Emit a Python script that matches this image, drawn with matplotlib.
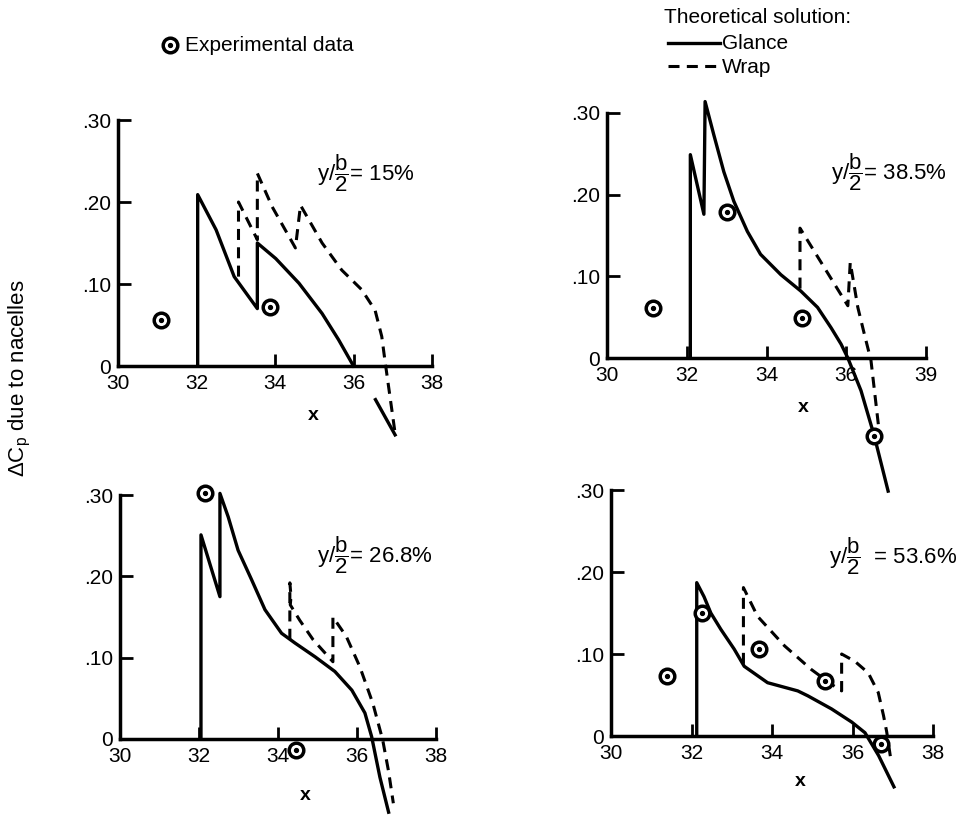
import numpy as np
import matplotlib
matplotlib.use("Agg")
import matplotlib.pyplot as plt
from matplotlib.lines import Line2D

plt.rcParams['font.family'] = ['Liberation Sans', 'DejaVu Sans']
plt.rcParams['mathtext.fontset'] = 'custom'
plt.rcParams['mathtext.rm'] = 'Liberation Sans'
plt.rcParams['mathtext.it'] = 'Liberation Sans'

nan = np.nan

# ---- data ----
# y/(b/2) = 15%
glance_15_x = [32.03, 32.03, 32.5, 32.96, 33.55, 33.55, 34.02, 34.61, 35.2, 35.62, 36.0, nan, 36.56, 37.06]
glance_15_y = [0, 0.209, 0.166, 0.109, 0.070, 0.150, 0.131, 0.101, 0.064, 0.032, 0.0, nan, -0.041, -0.084]
wrap_15_x = [33.07, 33.07, 33.55, 33.55, 33.93, 34.52, 34.65, 35.2, 35.7, 36.21, 36.55, 36.72, 36.8, 37.06]
wrap_15_y = [0.109, 0.200, 0.154, 0.235, 0.194, 0.144, 0.196, 0.150, 0.117, 0.093, 0.068, 0.036, 0.007, -0.082]
exp_15_x = [31.1, 33.87]
exp_15_y = [0.056, 0.072]

# y/(b/2) = 38.5%
glance_38_x = [32.09, 32.09, 32.43, 32.46, 32.68, 32.93, 33.18, 33.52, 33.85, 34.36, 34.86, 35.28, 35.62,
               35.87, 36.04, 36.37, 36.7, 37.05]
glance_38_y = [0, 0.249, 0.176, 0.314, 0.273, 0.228, 0.192, 0.155, 0.127, 0.102, 0.082, 0.062, 0.037,
               0.017, 0.0, -0.04, -0.095, -0.163]
wrap_38_x = [34.84, 34.84, 36.04, 36.1, 36.29, 36.45, 36.62, 36.83]
wrap_38_y = [0.085, 0.159, 0.064, 0.117, 0.062, 0.030, -0.003, -0.092]
exp_38_x = [31.16, 33.0, 34.89, 36.7]
exp_38_y = [0.061, 0.179, 0.049, -0.095]

# y/(b/2) = 26.8%
glance_26_x = [32.05, 32.05, 32.53, 32.53, 32.74, 32.99, 33.33, 33.67, 34.09, 34.43, 34.94, 35.44, 35.87,
               36.2, 36.37, 36.58, 36.8]
glance_26_y = [0, 0.251, 0.175, 0.302, 0.273, 0.232, 0.196, 0.159, 0.130, 0.118, 0.101, 0.083, 0.060,
               0.032, 0.003, -0.047, -0.09]
wrap_26_x = [34.3, 34.3, 34.33, 34.31, 34.55, 34.89, 35.39, 35.39, 35.73, 36.07, 36.4, 36.65, 36.8, 36.92]
wrap_26_y = [0.122, 0.192, 0.175, 0.165, 0.146, 0.122, 0.095, 0.150, 0.126, 0.089, 0.044, -0.001, -0.04, -0.079]
exp_26_x = [32.15, 34.45]
exp_26_y = [0.303, -0.013]

# y/(b/2) = 53.6%
glance_53_x = [32.13, 32.13, 32.31, 32.48, 32.73, 33.06, 33.31, 33.89, 34.64, 34.89, 35.48, 35.98, 36.31,
               36.65, 37.03]
glance_53_y = [0, 0.187, 0.170, 0.150, 0.130, 0.106, 0.085, 0.065, 0.055, 0.049, 0.033, 0.017, 0.004,
               -0.024, -0.062]
wrap_53_x = [33.29, 33.29, 33.64, 34.31, 34.98, 35.48, 35.73, 35.73, 36.06, 36.39, 36.64, 36.77, 36.85, 36.95]
wrap_53_y = [0.088, 0.181, 0.146, 0.110, 0.081, 0.063, 0.055, 0.100, 0.091, 0.077, 0.053, 0.025, 0.005, -0.028]
exp_53_x = [31.38, 32.27, 33.68, 35.31, 36.7]
exp_53_y = [0.073, 0.150, 0.106, 0.067, -0.01]

x_ticks = [30, 32, 34, 36, 38]
y_ticks = [0, 0.10, 0.20, 0.30]
y_ticklabels = ['0', '.10', '.20', '.30']

panels = [
    # label, glance, wrap, exp, x tick labels, pixel frame (x30, x38, y0, y30)
    ('15%', (glance_15_x, glance_15_y), (wrap_15_x, wrap_15_y), (exp_15_x, exp_15_y),
     ['30', '32', '34', '36', '38'], (118, 432, 366, 120)),
    ('38.5%', (glance_38_x, glance_38_y), (wrap_38_x, wrap_38_y), (exp_38_x, exp_38_y),
     ['30', '32', '34', '36', '39'], (607, 926, 358, 113)),
    ('26.8%', (glance_26_x, glance_26_y), (wrap_26_x, wrap_26_y), (exp_26_x, exp_26_y),
     ['30', '32', '34', '36', '38'], (120, 436, 739, 495)),
    ('53.6%', (glance_53_x, glance_53_y), (wrap_53_x, wrap_53_y), (exp_53_x, exp_53_y),
     ['30', '32', '34', '36', '38'], (611, 933, 736, 490)),
]
label_txt = ['= ', '= ', '= ', '  = ']
label_pos = [(317, 173), (831, 172), (317, 555), (829, 556)]
xlabel_pos = [(313, 415), (803, 407), (305, 795), (800, 781)]

W, H = 966, 824
YLO, YHI = -0.2, 0.33
FS = 15

fig = plt.figure(figsize=(W / 100, H / 100), dpi=100)


def frame_axes(x30, x38, y0, y30):
    ppu = (y0 - y30) / 0.30
    top = y0 - YHI * ppu
    bot = y0 - YLO * ppu
    ax = fig.add_axes([x30 / W, (H - bot) / H, (x38 - x30) / W, (bot - top) / H])
    ax.set_xlim(30, 38)
    ax.set_ylim(YLO, YHI)
    ax.patch.set_visible(False)
    return ax


def draw_marks(ax, x, y, size=10.5):
    ax.plot(x, y, 'o', ms=size, mfc='white', mec='black', mew=2.5, clip_on=False, zorder=5)
    ax.plot(x, y, 'o', ms=2.8, color='black', clip_on=False, zorder=6)


for i, (lab, gl, wr, ex, xtl, frame) in enumerate(panels):
    ax = frame_axes(*frame)
    ax.plot(gl[0], gl[1], color='black', lw=2.4, clip_on=False, solid_joinstyle='round')
    ax.plot(wr[0], wr[1], color='black', lw=2.2, ls=(0, (3.6, 2.4)), clip_on=False)
    draw_marks(ax, ex[0], ex[1])

    for s in ['top', 'right']:
        ax.spines[s].set_visible(False)
    ax.spines['left'].set_bounds(0, 0.30)
    ax.spines['bottom'].set_position(('data', 0))
    ax.spines['bottom'].set_bounds(30, 38)
    for s in ['left', 'bottom']:
        ax.spines[s].set_linewidth(2.5)
        ax.spines[s].set_capstyle('projecting')
    ax.set_xticks(x_ticks)
    ax.set_xticklabels(xtl)
    ax.set_yticks(y_ticks)
    ax.set_yticklabels(y_ticklabels)
    ax.tick_params(direction='in', length=9, width=2.0, labelsize=FS, pad=6)
    ax.tick_params(axis='y', pad=5)

    lx, ly = label_pos[i]
    fig.text(lx / W, 1 - ly / H, 'y/' + r'$\dfrac{\mathrm{b}}{\mathrm{2}}$' + label_txt[i] + lab,
             fontsize=FS + 1, va='center', ha='left')
    xx, xy = xlabel_pos[i]
    fig.text(xx / W, 1 - xy / H, 'x', fontsize=FS - 1, fontweight='bold', ha='center', va='center')

# y label
fig.text(20 / W, 1 - 378 / H, r'$\Delta$C$_\mathregular{p}$ due to nacelles', rotation=90,
         fontsize=FS + 1, ha='center', va='center')

# legend
leg = fig.add_axes([0, 0, 1, 1])
leg.set_xlim(0, W)
leg.set_ylim(H, 0)
leg.axis('off')
leg.patch.set_visible(False)
leg.plot([170], [45], 'o', ms=10.5, mfc='white', mec='black', mew=2.5)
leg.plot([170], [45], 'o', ms=2.8, color='black')
leg.text(185, 45, 'Experimental data', fontsize=FS, va='center', ha='left')
leg.text(664, 17, 'Theoretical solution:', fontsize=FS, va='center', ha='left')
leg.add_line(Line2D([668, 720], [43, 43], color='black', lw=2.4))
leg.text(722, 43, 'Glance', fontsize=FS, va='center', ha='left')
leg.add_line(Line2D([668, 720], [66, 66], color='black', lw=2.2, ls=(0, (3.6, 2.4))))
leg.text(722, 67, 'Wrap', fontsize=FS, va='center', ha='left')

fig.savefig('out.png', dpi=100)
